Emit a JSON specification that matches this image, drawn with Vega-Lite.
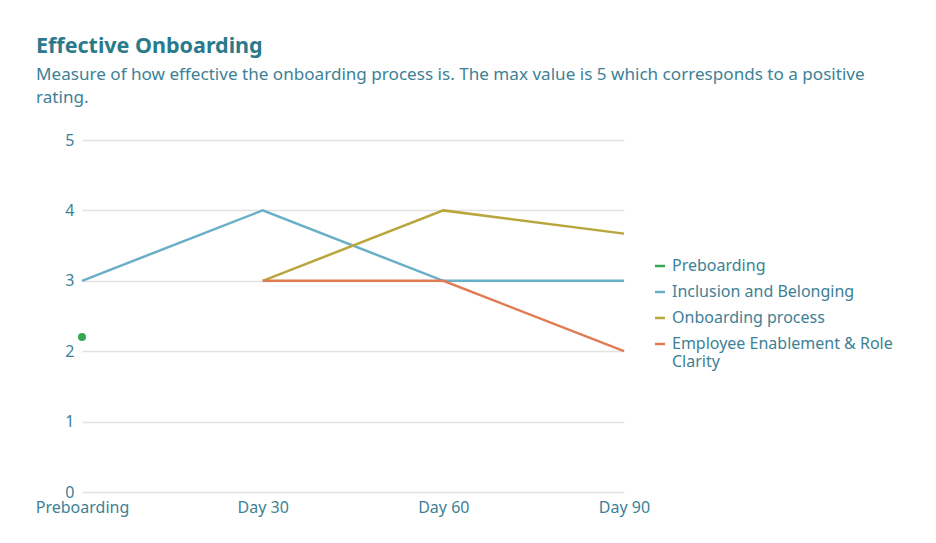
{
  "$schema": "https://vega.github.io/schema/vega-lite/v6.json",
  "autosize": "none",
  "width": 542,
  "height": 352,
  "padding": {"left": 82, "top": 140, "right": 312, "bottom": 51},
  "background": "white",
  "title": {
    "text": "Effective Onboarding",
    "subtitle": ["Measure of how effective the onboarding process is. The max value is 5 which corresponds to a positive", "rating."],
    "anchor": "start",
    "frame": "group",
    "dx": -46,
    "offset": 26,
    "font": "Noto Sans",
    "fontSize": 21.5,
    "fontWeight": "bold",
    "color": "#2b7a8c",
    "subtitleFont": "Noto Sans",
    "subtitleFontSize": 17.1,
    "subtitleColor": "#3d8196",
    "subtitleLineHeight": 23,
    "subtitlePadding": 8
  },
  "data": {
    "values": [
      {"stage": "Preboarding", "series": "Preboarding", "score": 2.2},
      {"stage": "Preboarding", "series": "Inclusion and Belonging", "score": 3},
      {"stage": "Day 30", "series": "Inclusion and Belonging", "score": 4},
      {"stage": "Day 60", "series": "Inclusion and Belonging", "score": 3},
      {"stage": "Day 90", "series": "Inclusion and Belonging", "score": 3},
      {"stage": "Day 30", "series": "Onboarding process", "score": 3},
      {"stage": "Day 60", "series": "Onboarding process", "score": 4},
      {"stage": "Day 90", "series": "Onboarding process", "score": 3.67},
      {"stage": "Day 30", "series": "Employee Enablement & Role Clarity", "score": 3},
      {"stage": "Day 60", "series": "Employee Enablement & Role Clarity", "score": 3},
      {"stage": "Day 90", "series": "Employee Enablement & Role Clarity", "score": 2}
    ]
  },
  "encoding": {
    "x": {
      "field": "stage",
      "type": "ordinal",
      "sort": ["Preboarding", "Day 30", "Day 60", "Day 90"],
      "scale": {"type": "point", "padding": 0},
      "axis": {"title": null, "labelAngle": 0, "domain": false, "ticks": false, "labelPadding": 7, "grid": false, "labelOverlap": false}
    },
    "y": {
      "field": "score",
      "type": "quantitative",
      "scale": {"domain": [0, 5]},
      "axis": {"title": null, "values": [0, 1, 2, 3, 4, 5], "domain": false, "ticks": false, "labelPadding": 8, "labelOverlap": false}
    },
    "color": {
      "field": "series",
      "type": "nominal",
      "sort": ["Preboarding", "Inclusion and Belonging", "Onboarding process", "Employee Enablement & Role Clarity"],
      "scale": {
        "domain": ["Preboarding", "Inclusion and Belonging", "Onboarding process", "Employee Enablement & Role Clarity"],
        "range": ["#34a853", "#6aafc8", "#b8a63c", "#e07b54"]
      },
      "legend": {
        "title": null,
        "orient": "none",
        "legendX": 570,
        "legendY": 118,
        "symbolType": "stroke",
        "symbolStrokeWidth": 2.5,
        "symbolSize": 100,
        "labelFont": "Noto Sans",
        "labelFontSize": 16,
        "labelColor": "#3d8196",
        "labelLimit": 270,
        "rowPadding": 10,
        "labelExpr": "datum.label == 'Employee Enablement & Role Clarity' ? ['Employee Enablement & Role', 'Clarity'] : datum.label"
      }
    }
  },
  "layer": [
    {"mark": {"type": "line", "strokeWidth": 2.5}},
    {
      "transform": [{"filter": "datum.series == 'Preboarding'"}],
      "mark": {"type": "circle", "size": 64, "opacity": 1}
    }
  ],
  "config": {
    "font": "Noto Sans",
    "view": {"stroke": null},
    "axis": {
      "labelFont": "Noto Sans",
      "labelFontSize": 16,
      "labelColor": "#3d8196",
      "gridColor": "#e2e2e2",
      "gridWidth": 1.5
    }
  }
}
